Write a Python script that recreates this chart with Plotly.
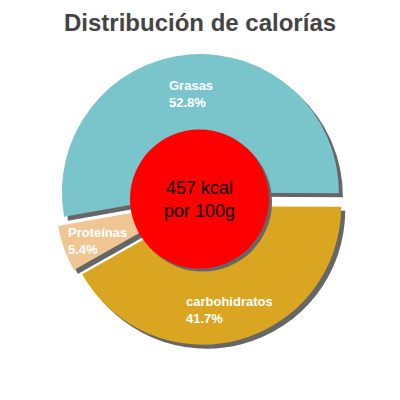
import math
import plotly.graph_objects as go

# ---------- data ----------
labels = ["Grasas", "Proteínas", "carbohidratos"]
percents = [52.8, 5.4, 41.7]
colors = ["#7ac4cc", "#f0c794", "#daa520"]
kcal_text = "457 kcal<br>por 100g"
title_text = "Distribución de calorías"

# ---------- geometry ----------
# positions below are measured in page pixels; the page body adds an 8px margin
W = H = 400
OFF = 8

def px2paper(x, y):
    return (x - OFF) / W, 1 - (y - OFF) / H

cx, cy = 201, 199.5     # pie centre on the page
R = 138.5               # slice radius
pull = 0.05
shadow_dx = 4

def dom(cx_, cy_):
    r = R * (1 + pull)
    x0, y1 = px2paper(cx_ - r, cy_ - r)
    x1, y0 = px2paper(cx_ + r, cy_ + r)
    return dict(x=[x0, x1], y=[y0, y1])

fig = go.Figure()

# shadow pie (gray, shifted right/down)
# rotation 260 -> first slice runs ccw from 3 o'clock to just past 9 o'clock
fig.add_trace(go.Pie(
    labels=labels, values=percents, sort=False,
    direction="counterclockwise", rotation=260,
    pull=[pull] * len(percents),
    marker=dict(colors=["#666666"] * len(percents), line=dict(width=0)),
    textinfo="none", hoverinfo="skip", showlegend=False,
    domain=dom(cx + shadow_dx, cy + shadow_dx),
))

# main pie
fig.add_trace(go.Pie(
    labels=labels, values=percents, sort=False,
    direction="counterclockwise", rotation=260,
    pull=[pull] * len(percents),
    marker=dict(colors=colors, line=dict(width=0)),
    textinfo="none", showlegend=False,
    domain=dom(cx, cy),
))

# labels inside slices, placed at mid-angle
total = sum(percents)
start = 0.0
for lab, p in zip(labels, percents):
    mid = math.radians((start + p / 2) / total * 360)
    start += p
    ax, ay = px2paper(cx + 110 * math.cos(mid), cy - 110 * math.sin(mid) + 4)
    fig.add_annotation(
        x=ax, y=ay, xref="paper", yref="paper",
        text=f"<b>{lab}<br>{p:.1f}%</b>", showarrow=False, align="left",
        xanchor="center", yanchor="middle",
        font=dict(family="Liberation Sans", size=13, color="white"),
    )

# red centre disc with shadow
cr = 69.5
ccx, ccy = 199.5, 199
for off, col in ((3, "#666666"), (0, "#ff0000")):
    x0, y1 = px2paper(ccx - cr + off, ccy - cr + off)
    x1, y0 = px2paper(ccx + cr + off, ccy + cr + off)
    fig.add_shape(
        type="circle", xref="paper", yref="paper",
        x0=x0, x1=x1, y0=y0, y1=y1,
        fillcolor=col, line=dict(width=0), layer="above",
    )

tx, ty = px2paper(ccx, ccy)
fig.add_annotation(
    x=tx, y=ty, xref="paper", yref="paper",
    text=kcal_text, showarrow=False, align="center",
    xanchor="center", yanchor="middle",
    font=dict(family="Liberation Sans", size=18, color="black"),
)

# title (kept inside the figure's top edge)
ttx, tty = px2paper(200, OFF)
fig.add_annotation(
    x=ttx, y=tty, xref="paper", yref="paper",
    text=f"<b>{title_text}</b>", showarrow=False, borderpad=0,
    xanchor="center", yanchor="top",
    font=dict(family="Liberation Sans", size=24, color="#444444"),
)

fig.update_layout(
    width=W, height=H,
    margin=dict(l=0, r=0, t=0, b=0),
    paper_bgcolor="white", plot_bgcolor="white",
)

fig.write_html("out.html")
